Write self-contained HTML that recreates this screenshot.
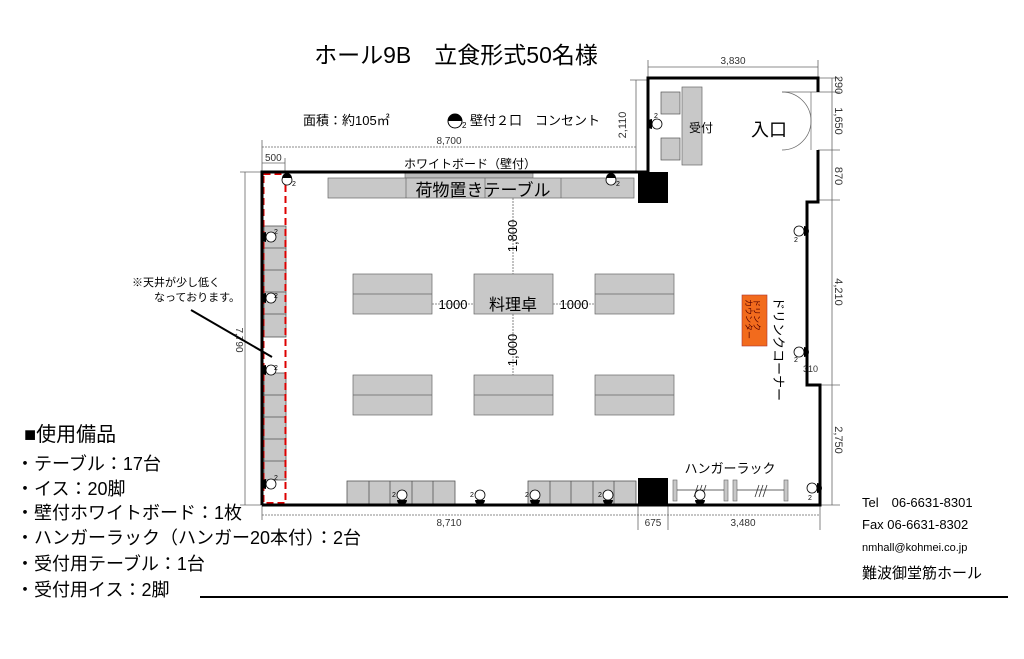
<!DOCTYPE html>
<html><head><meta charset="utf-8"><style>
body{margin:0;background:#fff}
svg{display:block;font-family:"Liberation Sans","Noto Sans CJK JP",sans-serif}
</style></head><body>
<svg width="1024" height="659" viewBox="0 0 1024 659" xmlns="http://www.w3.org/2000/svg">
<rect width="1024" height="659" fill="#fff"/>
<text x="456" y="63" font-size="23" text-anchor="middle">ホール9B　立食形式50名様</text>
<text x="303" y="125" font-size="13">面積：約105㎡</text>
<circle cx="455" cy="121" r="7" fill="#fff" stroke="#000"/><path d="M448 121a7 7 0 0 1 14 0z" fill="#000"/>
<text x="462" y="128" font-size="8">2</text>
<text x="470" y="125" font-size="13">壁付２口　コンセント</text>

<g stroke="#666" stroke-width="0.8" fill="none">
<line x1="262" y1="147" x2="636" y2="147" stroke-dasharray="2 1"/>
<line x1="262" y1="140" x2="262" y2="172"/>
<line x1="636" y1="80" x2="636" y2="172"/>
<line x1="262" y1="163" x2="285" y2="163"/><line x1="285" y1="158" x2="285" y2="172"/>
<line x1="648" y1="67" x2="818" y2="67"/><line x1="648" y1="60" x2="648" y2="78"/><line x1="818" y1="60" x2="818" y2="78"/>
<line x1="630" y1="80" x2="648" y2="80"/>
<line x1="245" y1="172" x2="245" y2="505"/><line x1="240" y1="172" x2="262" y2="172"/><line x1="240" y1="505" x2="262" y2="505"/>
<line x1="262" y1="515" x2="820" y2="515" stroke-dasharray="2 1"/>
<line x1="262" y1="505" x2="262" y2="520"/><line x1="638" y1="505" x2="638" y2="530"/><line x1="668" y1="505" x2="668" y2="530"/><line x1="820" y1="505" x2="820" y2="530"/>
<line x1="832" y1="78" x2="832" y2="505"/>
<line x1="818" y1="78" x2="840" y2="78"/><line x1="818" y1="92" x2="840" y2="92"/><line x1="818" y1="150" x2="840" y2="150"/><line x1="818" y1="200" x2="840" y2="200"/><line x1="820" y1="385" x2="840" y2="385"/><line x1="820" y1="505" x2="840" y2="505"/>
<line x1="513" y1="198" x2="513" y2="274" stroke-dasharray="2 1"/>
<line x1="513" y1="314" x2="513" y2="375" stroke-dasharray="2 1"/>
<line x1="432" y1="304" x2="474" y2="304" stroke-dasharray="2 1"/>
<line x1="553" y1="304" x2="595" y2="304" stroke-dasharray="2 1"/>
</g>
<g font-size="10" fill="#333">
<text x="449" y="144" text-anchor="middle">8,700</text>
<text x="265" y="161">500</text>
<text x="733" y="64" text-anchor="middle">3,830</text>
<text x="449" y="526" text-anchor="middle">8,710</text>
<text x="653" y="526" text-anchor="middle">675</text>
<text x="743" y="526" text-anchor="middle">3,480</text>
<text transform="translate(626,125) rotate(-90)" text-anchor="middle" font-size="11">2,110</text>
<text transform="translate(236,340) rotate(90)" text-anchor="middle">7,790</text>
<text transform="translate(835,85) rotate(90)" text-anchor="middle" font-size="11">290</text>
<text transform="translate(835,121) rotate(90)" text-anchor="middle" font-size="11">1,650</text>
<text transform="translate(835,176) rotate(90)" text-anchor="middle" font-size="11">870</text>
<text transform="translate(835,292) rotate(90)" text-anchor="middle" font-size="11">4,210</text>
<text transform="translate(835,440) rotate(90)" text-anchor="middle" font-size="11">2,750</text>
<text x="803" y="372" font-size="9">310</text>
</g>
<text transform="translate(517,236) rotate(-90)" text-anchor="middle" font-size="13">1,800</text>
<text transform="translate(517,350) rotate(-90)" text-anchor="middle" font-size="13">1,000</text>
<text x="453" y="309" text-anchor="middle" font-size="13">1000</text>
<text x="574" y="309" text-anchor="middle" font-size="13">1000</text>

<text x="470" y="168" text-anchor="middle" font-size="12">ホワイトボード（壁付）</text>
<rect x="405" y="172" width="128" height="6" fill="#bbb" stroke="#666" stroke-width="0.6"/>
<rect x="328" y="178" width="306" height="20" fill="#c8c8c8" stroke="#666" stroke-width="0.7"/>
<g stroke="#666" stroke-width="0.7"><line x1="406" y1="178" x2="406" y2="198"/><line x1="485" y1="178" x2="485" y2="198"/><line x1="561" y1="178" x2="561" y2="198"/></g>
<text x="483" y="196" text-anchor="middle" font-size="17">荷物置きテーブル</text>

<g fill="#c8c8c8" stroke="#666" stroke-width="0.7">
<rect x="353" y="274" width="79" height="40"/><rect x="474" y="274" width="79" height="40"/><rect x="595" y="274" width="79" height="40"/>
<rect x="353" y="375" width="79" height="40"/><rect x="474" y="375" width="79" height="40"/><rect x="595" y="375" width="79" height="40"/>
</g>
<g stroke="#666" stroke-width="0.7">
<line x1="353" y1="294" x2="432" y2="294"/><line x1="595" y1="294" x2="674" y2="294"/>
<line x1="353" y1="395" x2="432" y2="395"/><line x1="474" y1="395" x2="553" y2="395"/><line x1="595" y1="395" x2="674" y2="395"/>
</g>
<text x="513" y="310" text-anchor="middle" font-size="16">料理卓</text>

<g fill="#c8c8c8" stroke="#555" stroke-width="0.8">
<rect x="264" y="226" width="22" height="111"/><rect x="264" y="373" width="22" height="107"/>
<rect x="347" y="481" width="108" height="23"/><rect x="528" y="481" width="108" height="23"/>
</g>
<g stroke="#555" stroke-width="0.8">
<line x1="264" y1="248" x2="286" y2="248"/><line x1="264" y1="270" x2="286" y2="270"/><line x1="264" y1="292" x2="286" y2="292"/><line x1="264" y1="314" x2="286" y2="314"/>
<line x1="264" y1="395" x2="286" y2="395"/><line x1="264" y1="417" x2="286" y2="417"/><line x1="264" y1="439" x2="286" y2="439"/><line x1="264" y1="461" x2="286" y2="461"/>
<line x1="369" y1="481" x2="369" y2="504"/><line x1="390" y1="481" x2="390" y2="504"/><line x1="412" y1="481" x2="412" y2="504"/><line x1="433" y1="481" x2="433" y2="504"/>
<line x1="550" y1="481" x2="550" y2="504"/><line x1="571" y1="481" x2="571" y2="504"/><line x1="593" y1="481" x2="593" y2="504"/><line x1="614" y1="481" x2="614" y2="504"/>
</g>
<rect x="263.5" y="174" width="22" height="329" fill="none" stroke="#d00" stroke-width="2" stroke-dasharray="7 4"/>

<rect x="682" y="87" width="20" height="78" fill="#c8c8c8" stroke="#666" stroke-width="0.7"/>
<rect x="661" y="92" width="19" height="22" fill="#c8c8c8" stroke="#555" stroke-width="0.7"/>
<rect x="661" y="138" width="19" height="22" fill="#c8c8c8" stroke="#555" stroke-width="0.7"/>
<text x="701" y="132" text-anchor="middle" font-size="12">受付</text>
<text x="769" y="136" text-anchor="middle" font-size="18">入口</text>
<g stroke="#666" stroke-width="0.7" fill="none">
<line x1="782" y1="92" x2="818" y2="92"/>
<path d="M782 92 A29 29 0 0 1 811 121 M782 150 A29 29 0 0 0 811 121"/>
<line x1="811" y1="92" x2="811" y2="150"/>
</g>

<g fill="none" stroke="#000" stroke-width="3" stroke-linejoin="miter">
<path d="M262 505 V172 H648 V78 H818 V92"/>
<path d="M818 150 V202 H807 V385 H820 V505 H262"/>
</g>
<rect x="638" y="172" width="30" height="31" fill="#000"/>
<rect x="638" y="478" width="30" height="27" fill="#000"/>

<rect x="742" y="295" width="25" height="51" fill="#f26b1d" stroke="#a33" stroke-width="0.6"/>
<text transform="translate(754,299) rotate(90)" font-size="8" fill="#500">ドリンク</text>
<text transform="translate(746,299) rotate(90)" font-size="8" fill="#500">カウンター</text>
<text transform="translate(774,297) rotate(90)" font-size="13">ドリンクコーナー</text>

<text x="730" y="473" text-anchor="middle" font-size="13">ハンガーラック</text>
<g fill="#c8c8c8" stroke="#666" stroke-width="0.6">
<rect x="673" y="480" width="4" height="21"/><rect x="724" y="480" width="4" height="21"/><rect x="733" y="480" width="4" height="21"/><rect x="784" y="480" width="4" height="21"/>
</g>
<g stroke="#333" stroke-width="0.8"><line x1="677" y1="490" x2="724" y2="490"/><line x1="737" y1="490" x2="784" y2="490"/>
<path d="M694 497l4-12M698 497l4-12M702 497l4-12M755 497l4-12M759 497l4-12M763 497l4-12"/></g>

<g fill="#fff" stroke="#000" stroke-width="0.8">
<circle cx="287" cy="180" r="5"/><circle cx="611" cy="180" r="5"/><circle cx="271" cy="237" r="5"/><circle cx="271" cy="298" r="5"/><circle cx="271" cy="370" r="5"/><circle cx="271" cy="484" r="5"/>
<circle cx="402" cy="495" r="5"/><circle cx="480" cy="495" r="5"/><circle cx="535" cy="495" r="5"/><circle cx="608" cy="495" r="5"/><circle cx="700" cy="495" r="5"/>
<circle cx="657" cy="124" r="5"/><circle cx="799" cy="231" r="5"/><circle cx="799" cy="352" r="5"/><circle cx="812" cy="488" r="5"/>
</g>
<g fill="#000">
<path d="M282 178a5 5 0 0 1 10 0z"/><path d="M606 178a5 5 0 0 1 10 0z"/>
<path d="M397 500a5 5 0 0 0 10 0z"/><path d="M475 500a5 5 0 0 0 10 0z"/><path d="M530 500a5 5 0 0 0 10 0z"/><path d="M603 500a5 5 0 0 0 10 0z"/><path d="M695 500a5 5 0 0 0 10 0z"/>
<path d="M266 232v10a5 5 0 0 1 0-10z"/><path d="M266 293v10a5 5 0 0 1 0-10z"/><path d="M266 365v10a5 5 0 0 1 0-10z"/><path d="M266 479v10a5 5 0 0 1 0-10z"/><path d="M652 119v10a5 5 0 0 1 0-10z"/>
<path d="M804 226v10a5 5 0 0 0 0-10z"/><path d="M804 347v10a5 5 0 0 0 0-10z"/><path d="M817 483v10a5 5 0 0 0 0-10z"/>
</g>
<g font-size="7"><text x="292" y="186">2</text><text x="616" y="186">2</text><text x="274" y="234">2</text><text x="274" y="298">2</text><text x="274" y="370">2</text><text x="274" y="480">2</text>
<text x="392" y="497">2</text><text x="470" y="497">2</text><text x="525" y="497">2</text><text x="598" y="497">2</text><text x="654" y="118">2</text><text x="794" y="242">2</text><text x="794" y="362">2</text><text x="808" y="500">2</text></g>

<text x="220" y="286" text-anchor="end" font-size="11">※天井が少し低く</text>
<text x="240" y="301" text-anchor="end" font-size="11">なっております。</text>
<line x1="191" y1="310" x2="272" y2="357" stroke="#000" stroke-width="2"/>

<text x="24" y="441" font-size="20">■使用備品</text>
<g font-size="18">
<text x="16" y="470">・テーブル：17台</text>
<text x="16" y="495">・イス：20脚</text>
<text x="16" y="519">・壁付ホワイトボード：1枚</text>
<text x="16" y="544">・ハンガーラック（ハンガー20本付）：2台</text>
<text x="16" y="570">・受付用テーブル：1台</text>
<text x="16" y="596">・受付用イス：2脚</text>
</g>
<line x1="200" y1="597" x2="1008" y2="597" stroke="#000" stroke-width="2"/>
<g font-size="13">
<text x="862" y="507">Tel　06-6631-8301</text>
<text x="862" y="529">Fax 06-6631-8302</text>
<text x="862" y="551" font-size="11">nmhall@kohmei.co.jp</text>
<text x="862" y="578" font-size="15">難波御堂筋ホール</text>
</g>
</svg>
</body></html>
